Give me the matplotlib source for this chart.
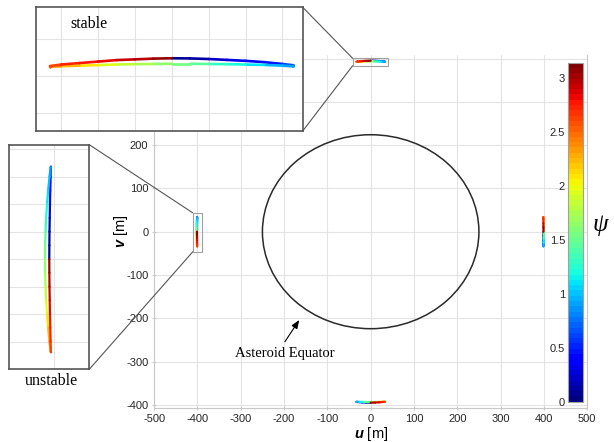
import numpy as np
import matplotlib
matplotlib.use('Agg')
import matplotlib.pyplot as plt
from matplotlib.collections import LineCollection
from matplotlib.patches import Ellipse, Rectangle, ConnectionPatch
from matplotlib.colors import Normalize
from matplotlib.cm import ScalarMappable
from matplotlib.ticker import FuncFormatter

plt.rcParams['font.family'] = ['Liberation Sans', 'DejaVu Sans']
plt.rcParams['axes.unicode_minus'] = False
plt.rcParams['mathtext.fontset'] = 'custom'
plt.rcParams['mathtext.bf'] = 'Liberation Sans:italic:bold'

# asteroid equator (semi-axes in m)
asteroid_a = 250
asteroid_b = 224

# stable orbit near (0, 393): loop order, psi wraps pi -> 0 at top middle
stable_u = [0, 5, 10, 15, 20, 25, 30, 33,
            33, 30, 25, 20, 15, 10, 5, 0, -5, -10, -15, -20, -25, -30, -33,
            -33, -30, -25, -20, -15, -10, -5, 0]
stable_v = [394.9, 394.85, 394.7, 394.45, 394.2, 393.85, 393.35, 393.0,
            392.7, 392.9, 393.1, 393.2, 393.3, 393.35, 393.4, 393.4, 393.35, 393.3, 393.2, 393.05, 392.9, 392.75, 392.6,
            392.8, 393.2, 393.6, 394.0, 394.4, 394.6, 394.8, 394.9]
stable_psi = [0.02, 0.1, 0.18, 0.26, 0.34, 0.43, 0.55, 0.68,
              0.85, 0.92, 1.03, 1.14, 1.26, 1.38, 1.5, 1.6, 1.7, 1.8, 1.9, 2.0, 2.15, 2.3, 2.45,
              2.6, 2.66, 2.74, 2.81, 2.88, 2.95, 3.03, 3.13]

# unstable orbit near (-401, 0)
unstable_u = [-401.1, -401.08, -401.05, -401.0, -400.95, -400.88, -400.8, -400.73,
              -400.8, -401.05, -401.35, -401.6, -401.8, -401.93, -402.02, -402.05,
              -402.02, -401.93, -401.8, -401.6, -401.35, -401.05, -400.8,
              -400.73, -400.8, -400.88, -400.95, -401.0, -401.05, -401.08, -401.1]
unstable_v = [0, 5, 10, 15, 20, 25, 30, 33.6,
              33.3, 30, 25, 20, 15, 10, 5, 0, -5, -10, -15, -20, -25, -30, -33.6,
              -33.9, -30, -25, -20, -15, -10, -5, 0]
unstable_psi = [0.02, 0.08, 0.15, 0.22, 0.3, 0.38, 0.5, 0.65,
                0.85, 0.93, 1.04, 1.15, 1.26, 1.38, 1.5, 1.6, 1.7, 1.8, 1.9, 2.0, 2.15, 2.3, 2.45,
                2.6, 2.66, 2.74, 2.81, 2.88, 2.95, 3.03, 3.13]

# orbit near (399, 0)
right_u = [399.1, 399.05, 398.95, 398.8, 398.73,
           398.8, 399.35, 399.8, 400.05, 399.8, 399.35, 398.8,
           398.73, 398.8, 398.95, 399.05, 399.1]
right_v = [0, -10, -20, -30, -33.6,
           -33.3, -25, -15, 0, 15, 25, 33.6,
           33.9, 30, 20, 10, 0]
right_psi = [0.02, 0.15, 0.3, 0.5, 0.65,
             0.85, 1.04, 1.26, 1.6, 1.9, 2.15, 2.45,
             2.6, 2.66, 2.81, 2.95, 3.13]

# orbit near (0, -393)
bottom_u = [0, -10, -20, -30, -33,
            -33, -25, -15, 0, 15, 25, 33,
            33, 30, 20, 10, 0]
bottom_v = [-394.9, -394.7, -394.2, -393.35, -393.0,
            -392.7, -393.1, -393.3, -393.4, -393.2, -392.9, -392.6,
            -392.8, -393.2, -394.0, -394.6, -394.9]
bottom_psi = [0.02, 0.18, 0.34, 0.55, 0.68,
              0.85, 1.03, 1.26, 1.6, 1.9, 2.15, 2.45,
              2.6, 2.66, 2.81, 2.95, 3.13]

u_ticks = [-500, -400, -300, -200, -100, 0, 100, 200, 300, 400, 500]
v_ticks = [-400, -300, -200, -100, 0, 100, 200, 300, 400]
psi_ticks = [0, 0.5, 1, 1.5, 2, 2.5, 3]

cmap = plt.get_cmap('jet', 64)
norm = Normalize(0, np.pi)
grid_c = '#e3e3e3'


def add_traj(ax, u, v, psi, lw):
    pts = np.column_stack([u, v])
    segs = np.stack([pts[:-1], pts[1:]], axis=1)
    p = np.asarray(psi)
    lc = LineCollection(segs, cmap=cmap, norm=norm, linewidths=lw, capstyle='round', joinstyle='round')
    lc.set_array((p[:-1] + p[1:]) / 2)
    ax.add_collection(lc)


fig = plt.figure(figsize=(6.14, 4.42), dpi=100)

# main axes
ax = fig.add_axes([0.2511, 0.0769, 0.7052, 0.7986])
ax.set_xlim(-500, 500)
ax.set_ylim(-407.2, 408.1)
ax.set_xticks(u_ticks)
ax.set_yticks(v_ticks)
ax.grid(True, color=grid_c, lw=0.8)
ax.set_axisbelow(True)
for s in ['left', 'bottom', 'right']:
    ax.spines[s].set_color('#c8c8c8')
    ax.spines[s].set_linewidth(0.8)
ax.spines['top'].set_visible(False)
ax.tick_params(labelsize=8, colors='#262626', length=2.5, direction='inout', pad=3)
ax.tick_params(color='#c8c8c8')
ax.set_xlabel(r'$\mathbf{u}$ [m]', fontsize=10.5, labelpad=1)
ax.set_ylabel(r'$\mathbf{v}$ [m]', fontsize=10.5, va='center')
ax.yaxis.set_label_coords(-0.077, 0.5)

ax.add_patch(Ellipse((0, 0), 2 * asteroid_a, 2 * asteroid_b, fill=False, ec='#2a2a2a', lw=1.1))
ax.annotate('', xy=(-165, -204), xytext=(-198, -254),
            arrowprops=dict(arrowstyle='-|>,head_length=0.5,head_width=0.2', color='black', lw=0.8, shrinkA=0, shrinkB=0))
ax.text(-198, -289, 'Asteroid Equator', ha='center', va='baseline', fontsize=10.5, family='Liberation Serif')

for (u, v, p) in [(stable_u, stable_v, stable_psi), (unstable_u, unstable_v, unstable_psi),
                  (right_u, right_v, right_psi), (bottom_u, bottom_v, bottom_psi)]:
    add_traj(ax, u, v, p, 1.6)

ax.add_patch(Rectangle((-41.6, 383.4), 82.2, 17.1, fill=False, ec='#a0a0a0', lw=0.8))
ax.add_patch(Rectangle((-411, -46.5), 22, 90.2, fill=False, ec='#a0a0a0', lw=0.8))

# stable inset
axs = fig.add_axes([0.0586, 0.7036, 0.4344, 0.2799])
axs.set_xlim(-36.8, 35.5)
axs.set_ylim(375.2, 408.7)
axs.set_xticks([-30, -20, -10, 0, 10, 20, 30])
axs.set_yticks([380, 390, 400])
axs.grid(True, color=grid_c, lw=0.8)
axs.tick_params(length=0, labelbottom=False, labelleft=False)
for s in axs.spines.values():
    s.set_color('#555555')
    s.set_linewidth(1.2)
add_traj(axs, stable_u, stable_v, stable_psi, 1.9)
axs.text(0.13, 0.833, 'stable', transform=axs.transAxes, ha='left', va='baseline',
         fontsize=11.5, family='Liberation Serif')

# unstable inset
axu = fig.add_axes([0.0151, 0.1645, 0.1303, 0.5081])
axu.set_xlim(-410, -392.2)
axu.set_ylim(-40.1, 41.6)
axu.set_xticks([-400])
axu.set_yticks([-30, -20, -10, 0, 10, 20, 30, 40])
axu.grid(True, color=grid_c, lw=0.8)
axu.tick_params(length=0, labelbottom=False, labelleft=False)
for s in axu.spines.values():
    s.set_color('#555555')
    s.set_linewidth(1.2)
add_traj(axu, unstable_u, unstable_v, unstable_psi, 1.6)
fig.text(0.0834, 0.129, 'unstable', ha='center', va='baseline', fontsize=11.5, family='Liberation Serif')

# connectors
for xyA, xyB, a in [((1, 1), (-41.6, 400.5), axs), ((1, 0), (-41.6, 383.4), axs),
                    ((1, 1), (-411, 43.7), axu), ((1, 0), (-411, -46.5), axu)]:
    cp = ConnectionPatch(xyA=xyA, coordsA=a.transAxes, xyB=xyB, coordsB=ax.transData,
                         color='#555555', lw=0.8)
    fig.add_artist(cp)

# colorbar
cax = fig.add_axes([0.925, 0.0912, 0.0244, 0.767])
cb = fig.colorbar(ScalarMappable(norm=norm, cmap=cmap), cax=cax, ticks=psi_ticks)
cb.outline.set_edgecolor('#a0a0a0')
cb.outline.set_linewidth(0.8)
cax.yaxis.set_ticks_position('left')
cax.yaxis.set_major_formatter(FuncFormatter(lambda x, pos: '%g' % x))
cax.tick_params(labelsize=8, length=0, pad=2, colors='#262626')
fig.text(600 / 614, 1 - 225 / 442, '\u03c8', fontsize=18, ha='center', va='center',
         family='Liberation Serif', style='italic')

fig.savefig('out.png', dpi=100)
